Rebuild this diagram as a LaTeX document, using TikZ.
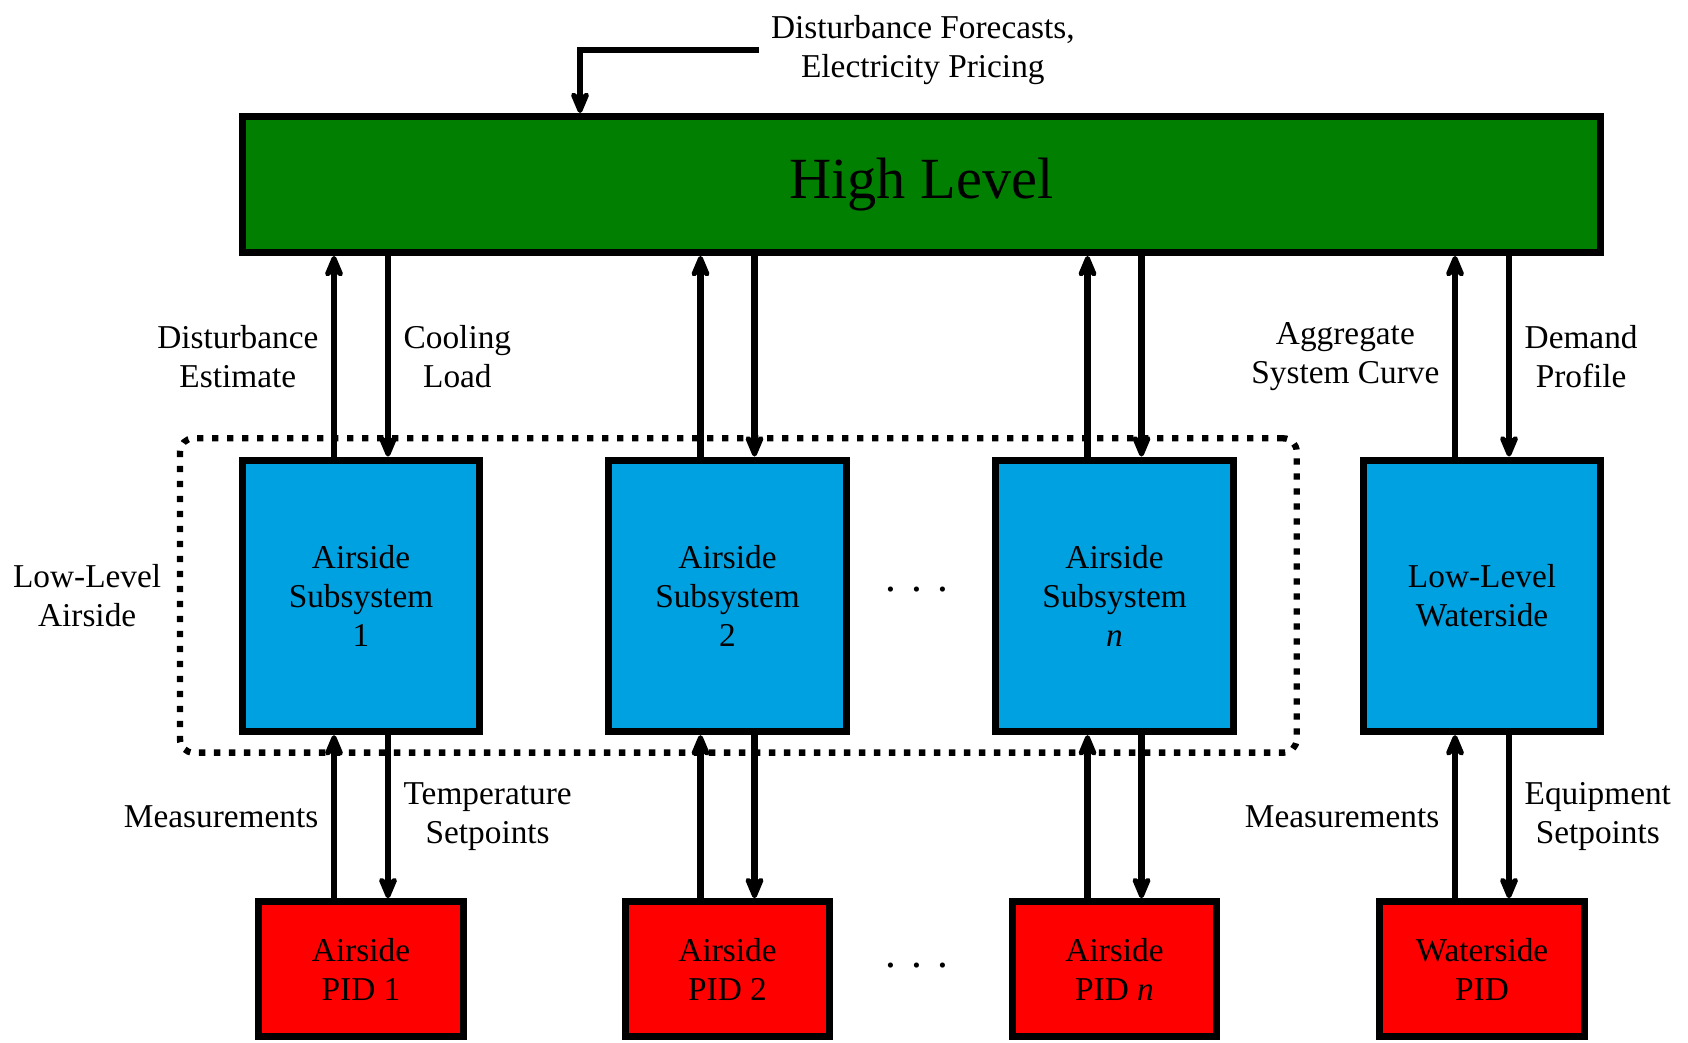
\documentclass[tikz,border=0pt]{standalone}
\usepackage{fontspec}
\setmainfont{Liberation Serif}
\usetikzlibrary{arrows.meta,calc}
\definecolor{hlgreen}{RGB}{0,127,0}
\definecolor{ssblue}{RGB}{0,161,225}
\definecolor{pidred}{RGB}{255,0,0}
\begin{document}
\begin{tikzpicture}[x=0.3pt,y=-0.3pt,
  blk/.style={draw=black, line width=2.1pt, rectangle, align=center, inner sep=0pt, font=\fontsize{10}{11.7}\selectfont},
  hlblk/.style={blk, fill=hlgreen, minimum width=407.4pt, minimum height=40.8pt, font=\fontsize{17.5}{21}\selectfont},
  ssblk/.style={blk, fill=ssblue, minimum width=71.3pt, minimum height=81.5pt},
  pidblk/.style={blk, fill=pidred, minimum width=61.3pt, minimum height=40.5pt},
  lbl/.style={align=center, inner sep=4.5pt, font=\fontsize{10}{11.7}\selectfont},
  arr/.style={line width=2pt, -{Stealth[length=9pt,width=7.5pt,inset=3.2pt,round]}},
  grpbox/.style={draw, line width=1.9pt, dash pattern=on 1.9pt off 2.6pt, rounded corners=4pt, minimum width=335pt, minimum height=94.3pt, inner sep=0pt},
  dotsstyle/.style={inner sep=0pt, font=\fontsize{13}{14}\selectfont}]
\useasboundingbox (0,0) rectangle (1688,1043);

% dotted group
\node[grpbox] (grp) at (738.35,595.5) {};
\node[lbl, anchor=east] (lla) at (grp.west) {Low-Level\\Airside};

% high level
\node[hlblk] (hl) at (921.5,184.5) {High Level};

% subsystems
\node[ssblk] (s1) at (361,595.85) {Airside\\Subsystem\\1};
\node[ssblk] (s2) at (727.5,595.85) {Airside\\Subsystem\\2};
\node[ssblk] (s3) at (1114.5,595.85) {Airside\\Subsystem\\\textit{n}};
\node[ssblk] (s4) at (1482,595.85) {Low-Level\\Waterside};

% PIDs
\node[pidblk] (p1) at (361,969.2) {Airside\\PID 1};
\node[pidblk] (p2) at (727.5,969.2) {Airside\\PID 2};
\node[pidblk] (p3) at (1114.5,969.2) {Airside\\PID \textit{n}};
\node[pidblk] (p4) at (1482,969.2) {Waterside\\PID};

% dots
\node[dotsstyle] (dA) at (917,590) {.\hspace{4.6pt}.\hspace{4.6pt}.};
\node[dotsstyle] (dB) at (917,966) {.\hspace{4.6pt}.\hspace{4.6pt}.};

% top input
\node[lbl, anchor=west, inner sep=3.6pt, outer sep=0pt] (dfep) at (759,50) {Disturbance Forecasts,\\Electricity Pricing};
\draw[arr] (dfep.west) -| ([xshift=-102.45pt]hl.north);

% upper arrows
\foreach \s in {s1,s2,s3,s4}{
  \draw[arr] ([xshift=-8.1pt]\s.north) -- ([xshift=-8.1pt]\s.north |- hl.south);
  \draw[arr] ([xshift=8.1pt]\s.north |- hl.south) -- ([xshift=8.1pt]\s.north);
}
% lower arrows
\foreach \s/\p in {s1/p1,s2/p2,s3/p3,s4/p4}{
  \draw[arr] ([xshift=-8.1pt]\p.north) -- ([xshift=-8.1pt]\p.north |- \s.south);
  \draw[arr] ([xshift=8.1pt]\p.north |- \s.south) -- ([xshift=8.1pt]\p.north);
}

% labels
\path ([xshift=-8.1pt]s1.north) -- ([xshift=-8.1pt]s1.north |- hl.south) node[lbl, midway, anchor=east] (l1) {Disturbance\\Estimate};
\path ([xshift=8.1pt]s1.north) -- ([xshift=8.1pt]s1.north |- hl.south) node[lbl, midway, anchor=west] (l2) {Cooling\\Load};
\path ([xshift=-8.1pt]s4.north) -- ([xshift=-8.1pt]s4.north |- hl.south) node[lbl, midway, anchor=east] (l3) {Aggregate\\System Curve};
\path ([xshift=8.1pt]s4.north) -- ([xshift=8.1pt]s4.north |- hl.south) node[lbl, midway, anchor=west] (l4) {Demand\\Profile};
\path ([xshift=-8.1pt]p1.north) -- ([xshift=-8.1pt]p1.north |- s1.south) node[lbl, midway, anchor=east] (l5) {Measurements};
\path ([xshift=8.1pt]p1.north) -- ([xshift=8.1pt]p1.north |- s1.south) node[lbl, midway, anchor=west] (l6) {Temperature\\Setpoints};
\path ([xshift=-8.1pt]p4.north) -- ([xshift=-8.1pt]p4.north |- s4.south) node[lbl, midway, anchor=east] (l7) {Measurements};
\path ([xshift=8.1pt]p4.north) -- ([xshift=8.1pt]p4.north |- s4.south) node[lbl, midway, anchor=west] (l8) {Equipment\\Setpoints};
\end{tikzpicture}
\end{document}
